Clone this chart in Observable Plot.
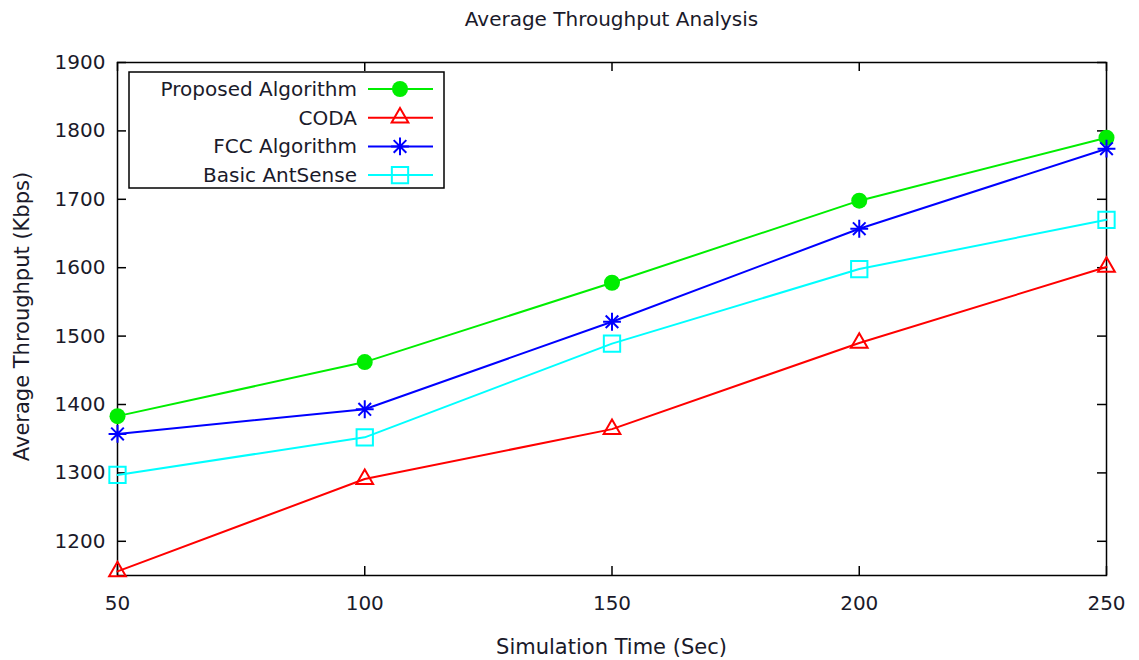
<!DOCTYPE html>
<html><head><meta charset="utf-8">
<script src="https://cdn.jsdelivr.net/npm/d3@7"></script>
<script src="https://cdn.jsdelivr.net/npm/@observablehq/plot@0.6"></script>
<style>body{margin:0;background:#fff;}#chart{width:1139px;height:660px;}</style>
</head><body><div id="chart"></div>
<script>
const simTime = [50, 100, 150, 200, 250];
const proposed = [1383, 1462, 1578, 1698, 1790];
const coda = [1156, 1291, 1364, 1490, 1601];
const fcc = [1357, 1393, 1521, 1657, 1774];
const antsense = [1297, 1352, 1489, 1598, 1670];
const seriesNames = ["Proposed Algorithm", "CODA", "FCC Algorithm", "Basic AntSense"];
const seriesColors = ["#00ee00", "#ff0000", "#0000ff", "#00ffff"];
const xTicks = [50, 100, 150, 200, 250];
const yTicks = [1200, 1300, 1400, 1500, 1600, 1700, 1800, 1900];
const titleText = "Average Throughput Analysis";
const xLabel = "Simulation Time (Sec)";
const yLabel = "Average Throughput (Kbps)";

const star8 = {draw(ctx, size) {
  const r = Math.sqrt(size / Math.PI) * 1.05, d = r * Math.SQRT1_2;
  ctx.moveTo(-r, 0); ctx.lineTo(r, 0);
  ctx.moveTo(0, -r); ctx.lineTo(0, r);
  ctx.moveTo(-d, -d); ctx.lineTo(d, d);
  ctx.moveTo(-d, d); ctx.lineTo(d, -d);
}};
const symbols = [d3.symbolCircle, d3.symbolTriangle, star8, d3.symbolSquare];
const filled = [true, false, false, false];
const radii = [8, 6.2, 8.5, 9.2];

const allValues = [proposed, coda, fcc, antsense];
const rows = allValues.flatMap((arr, si) => simTime.map((t, i) => ({t, v: arr[i], s: seriesNames[si]})));

const W = 1139, H = 660, ML = 117, MR = 33, MT = 62, MB = 85;
const plotW = W - ML - MR, plotH = H - MT - MB;
const font = "DejaVu Sans, sans-serif";
const textColor = "#1a1a2a";

const marks = [
  Plot.frame({stroke: "#000", strokeWidth: 1.5}),
  Plot.tickY(yTicks, {y: d => d, stroke: "#000", strokeWidth: 1.5, insetRight: plotW - 9}),
  Plot.tickY(yTicks, {y: d => d, stroke: "#000", strokeWidth: 1.5, insetLeft: plotW - 9}),
  Plot.tickX(xTicks, {x: d => d, stroke: "#000", strokeWidth: 1.5, insetTop: plotH - 9}),
  Plot.tickX(xTicks, {x: d => d, stroke: "#000", strokeWidth: 1.5, insetBottom: plotH - 9}),
  Plot.axisX(xTicks, {anchor: "bottom", tickSize: 0, tickPadding: 20, tickFormat: d => String(d), label: null}),
  Plot.axisY(yTicks, {anchor: "left", tickSize: 0, tickPadding: 12, tickFormat: d => String(d), label: null}),
  Plot.line(rows, {x: "t", y: "v", z: "s", stroke: "s", strokeWidth: 2})
];
seriesNames.forEach((name, si) => {
  const data = rows.filter(r => r.s === name);
  marks.push(Plot.dot(data, {
    x: "t", y: "v", symbol: () => symbols[si], r: radii[si],
    fill: filled[si] ? seriesColors[si] : "none",
    stroke: filled[si] ? "none" : seriesColors[si],
    strokeWidth: 2
  }));
});

const svg = Plot.plot({
  width: W, height: H,
  marginLeft: ML, marginRight: MR, marginTop: MT, marginBottom: MB,
  x: {domain: [50, 250]},
  y: {domain: [1150, 1900]},
  color: {domain: seriesNames, range: seriesColors},
  symbol: {type: "identity"},
  style: {fontFamily: font, fontSize: "20px", color: textColor, background: "#fff"},
  marks
});

const s = d3.select(svg);
s.append("text").attr("x", ML + plotW / 2).attr("y", 19).attr("dy", "0.35em").attr("text-anchor", "middle")
  .attr("font-family", font).attr("font-size", 20).attr("fill", textColor).text(titleText);
s.append("text").attr("x", ML + plotW / 2).attr("y", 647).attr("dy", "0.35em").attr("text-anchor", "middle")
  .attr("font-family", font).attr("font-size", 21).attr("fill", textColor).text(xLabel);
s.append("text").attr("transform", `translate(22,${MT + plotH / 2 - 2}) rotate(-90)`).attr("dy", "0.35em").attr("text-anchor", "middle")
  .attr("font-family", font).attr("font-size", 21).attr("fill", textColor).text(yLabel);

const lg = s.append("g").attr("transform", `translate(${ML + 12},${MT + 10})`);
lg.append("rect").attr("width", 315).attr("height", 116).attr("fill", "#fff").attr("stroke", "#000").attr("stroke-width", 1.5);
seriesNames.forEach((name, si) => {
  const y = 17 + si * 28.7;
  lg.append("text").attr("x", 228).attr("y", y).attr("dy", "0.35em").attr("text-anchor", "end")
    .attr("font-family", font).attr("font-size", 20).attr("fill", textColor).text(name);
  lg.append("line").attr("x1", 239).attr("x2", 304).attr("y1", y).attr("y2", y)
    .attr("stroke", seriesColors[si]).attr("stroke-width", 2);
  lg.append("path").attr("transform", `translate(271,${y})`)
    .attr("d", d3.symbol(symbols[si], Math.PI * radii[si] * radii[si])())
    .attr("fill", filled[si] ? seriesColors[si] : "none")
    .attr("stroke", filled[si] ? "none" : seriesColors[si]).attr("stroke-width", 2);
});

document.getElementById("chart").appendChild(svg);
</script>
</body></html>
